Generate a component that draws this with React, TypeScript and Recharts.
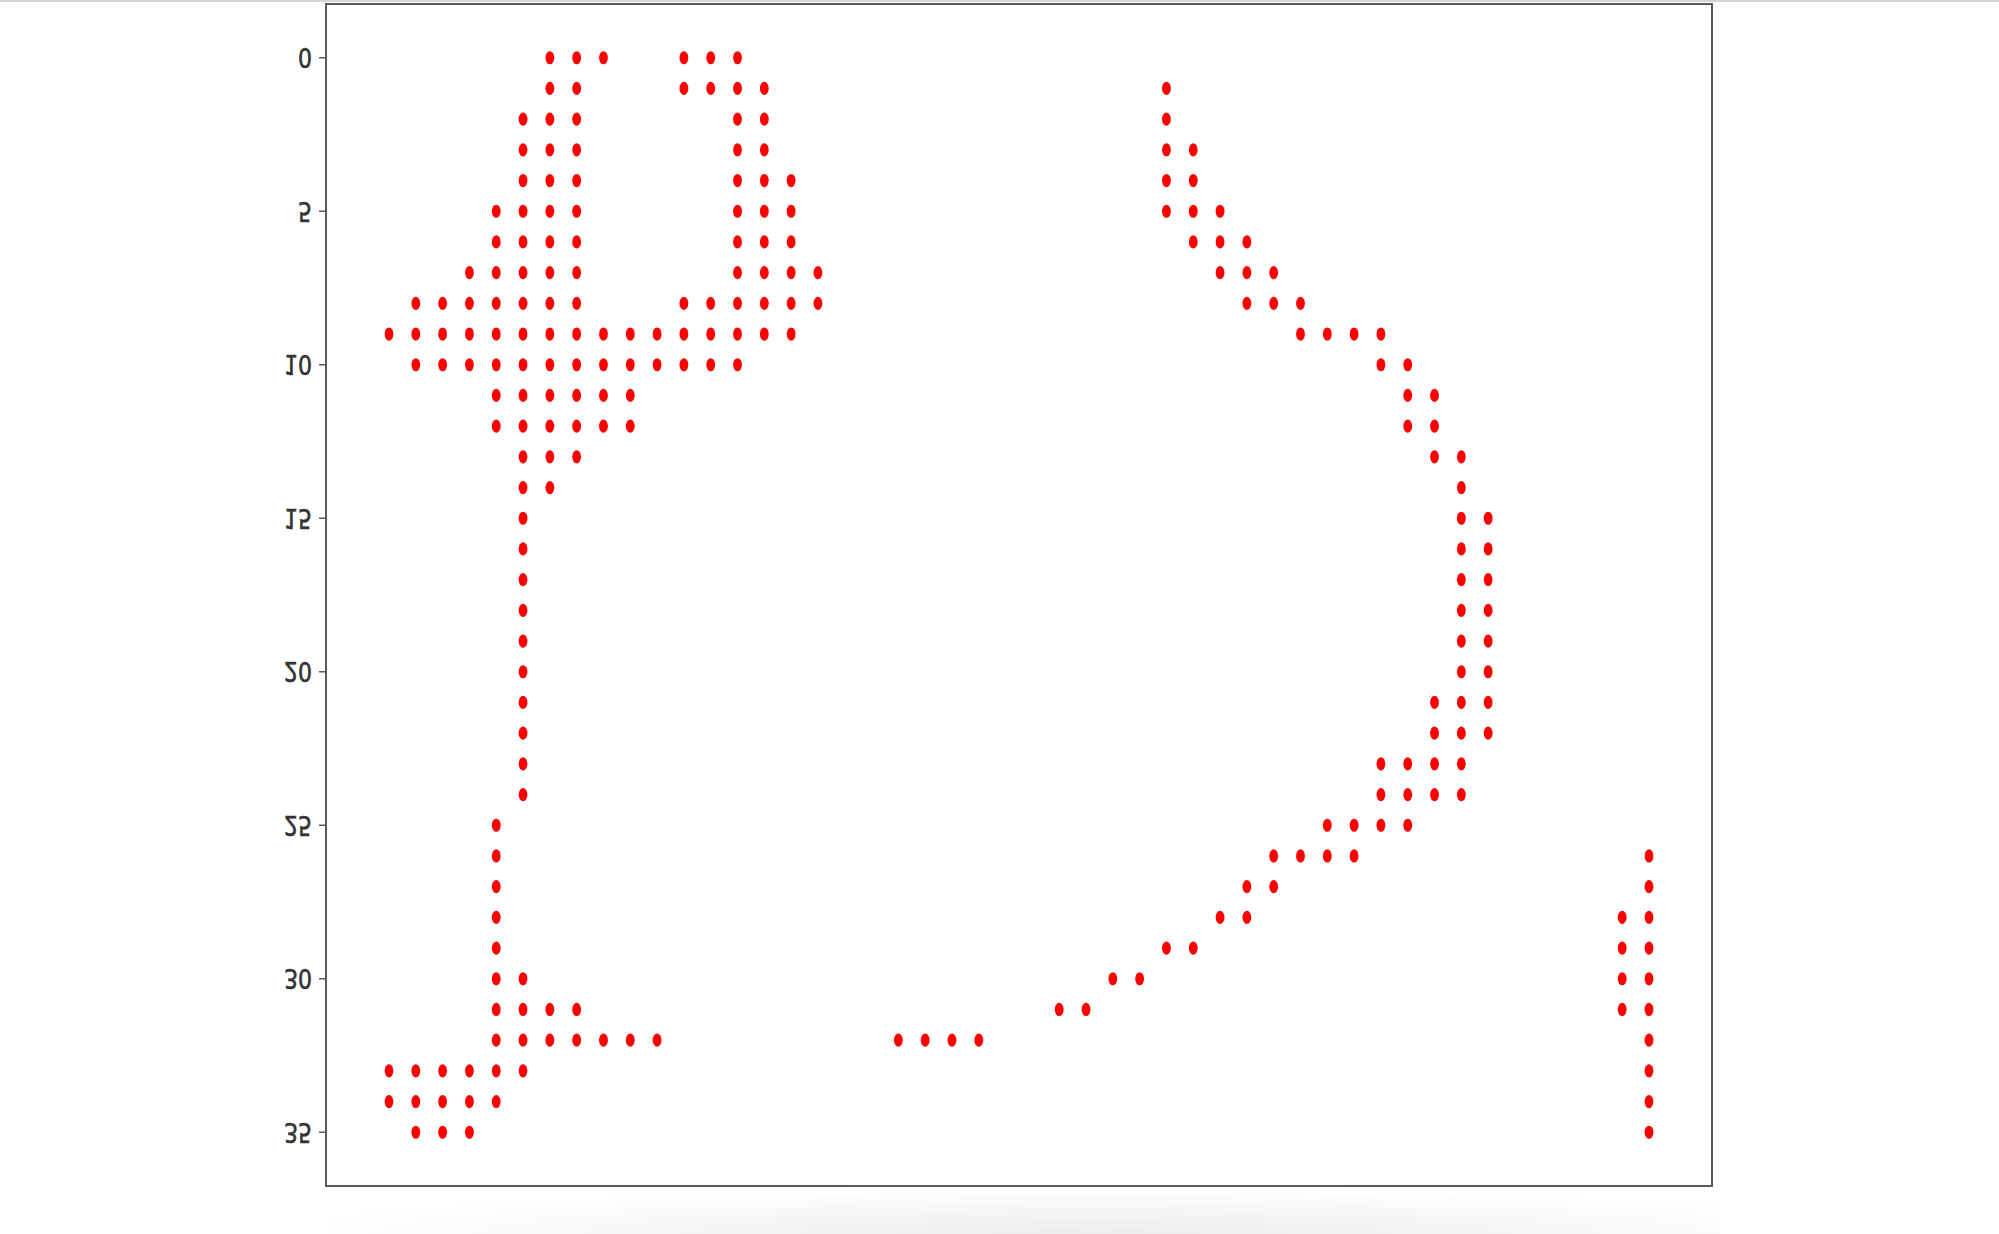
import { ReferenceArea, Scatter, ScatterChart, XAxis, YAxis } from "recharts";

// column indices of the red dots, one list per row (row 0 is at the top)
const rowCols: number[][] = [
  [6, 7, 8, 11, 12, 13],
  [6, 7, 11, 12, 13, 14, 29],
  [5, 6, 7, 13, 14, 29],
  [5, 6, 7, 13, 14, 29, 30],
  [5, 6, 7, 13, 14, 15, 29, 30],
  [4, 5, 6, 7, 13, 14, 15, 29, 30, 31],
  [4, 5, 6, 7, 13, 14, 15, 30, 31, 32],
  [3, 4, 5, 6, 7, 13, 14, 15, 16, 31, 32, 33],
  [1, 2, 3, 4, 5, 6, 7, 11, 12, 13, 14, 15, 16, 32, 33, 34],
  [0, 1, 2, 3, 4, 5, 6, 7, 8, 9, 10, 11, 12, 13, 14, 15, 34, 35, 36, 37],
  [1, 2, 3, 4, 5, 6, 7, 8, 9, 10, 11, 12, 13, 37, 38],
  [4, 5, 6, 7, 8, 9, 38, 39],
  [4, 5, 6, 7, 8, 9, 38, 39],
  [5, 6, 7, 39, 40],
  [5, 6, 40],
  [5, 40, 41],
  [5, 40, 41],
  [5, 40, 41],
  [5, 40, 41],
  [5, 40, 41],
  [5, 40, 41],
  [5, 39, 40, 41],
  [5, 39, 40, 41],
  [5, 37, 38, 39, 40],
  [5, 37, 38, 39, 40],
  [4, 35, 36, 37, 38],
  [4, 33, 34, 35, 36, 47],
  [4, 32, 33, 47],
  [4, 31, 32, 46, 47],
  [4, 29, 30, 46, 47],
  [4, 5, 27, 28, 46, 47],
  [4, 5, 6, 7, 25, 26, 46, 47],
  [4, 5, 6, 7, 8, 9, 10, 19, 20, 21, 22, 47],
  [0, 1, 2, 3, 4, 5, 47],
  [0, 1, 2, 3, 4, 47],
  [1, 2, 3, 47],
];

const xTicks = [0, 10, 20, 30, 40];
const yTicks = [0, 5, 10, 15, 20, 25, 30, 35];
const xDomain = [-2.35, 49.35];
const yDomain = [-1.75, 36.75];

const points = rowCols.flatMap((cols, row) => cols.map((col) => ({ x: col, y: row })));

function Dot({ cx, cy }: any) {
  if (cx == null || cy == null) return null;
  return <ellipse cx={cx} cy={cy} rx={4.4} ry={6.6} fill="#ff0000" />;
}

// the tick labels in the picture are drawn upside down
function FlippedTick({ x, y, payload }: any) {
  return (
    <text
      transform={`translate(${x},${y}) scale(1.05,-1.3)`}
      textAnchor="end"
      dominantBaseline="central"
      fontSize={21}
      fontFamily="DejaVu Sans"
      fill="#333"
      stroke="#333"
      strokeWidth={0.5}
    >
      {payload.value}
    </text>
  );
}

export default function App() {
  return (
    <div style={{ position: "absolute", left: 0, top: 0, width: 1999, height: 1234, background: "#fff", overflow: "hidden" }}>
      <div style={{ position: "absolute", left: 0, top: 0, width: 1999, height: 2, background: "#d4d4d4" }} />
      <div
        style={{
          position: "absolute",
          left: 330,
          top: 1188,
          width: 1390,
          height: 46,
          background: "radial-gradient(ellipse 60% 100% at 55% 100%, #ececec, rgba(255,255,255,0))",
        }}
      />
      <div style={{ position: "absolute", left: 0, top: 0 }}>
        <ScatterChart width={1999} height={1234} margin={{ top: 4, right: 287, bottom: 48, left: 266 }}>
          <XAxis
            type="number"
            dataKey="x"
            orientation="top"
            domain={xDomain}
            ticks={xTicks}
            allowDataOverflow
            height={0}
            tickSize={5}
            tickFormatter={() => ""}
            stroke="#5a5a5a"
            axisLine={{ stroke: "#5a5a5a", strokeWidth: 2 }}
            tickLine={{ stroke: "#5a5a5a" }}
          />
          <YAxis
            type="number"
            dataKey="y"
            reversed
            domain={yDomain}
            ticks={yTicks}
            allowDataOverflow
            width={60}
            tickSize={7}
            tickMargin={7}
            tick={<FlippedTick />}
            axisLine={{ stroke: "#5a5a5a", strokeWidth: 2 }}
            tickLine={{ stroke: "#5a5a5a", strokeWidth: 1.5 }}
          />
          <ReferenceArea
            x1={xDomain[0]}
            x2={xDomain[1]}
            y1={yDomain[0]}
            y2={yDomain[1]}
            fill="none"
            fillOpacity={0}
            stroke="#5a5a5a"
            strokeWidth={2}
          />
          <Scatter data={points} shape={<Dot />} isAnimationActive={false} />
        </ScatterChart>
      </div>
    </div>
  );
}
